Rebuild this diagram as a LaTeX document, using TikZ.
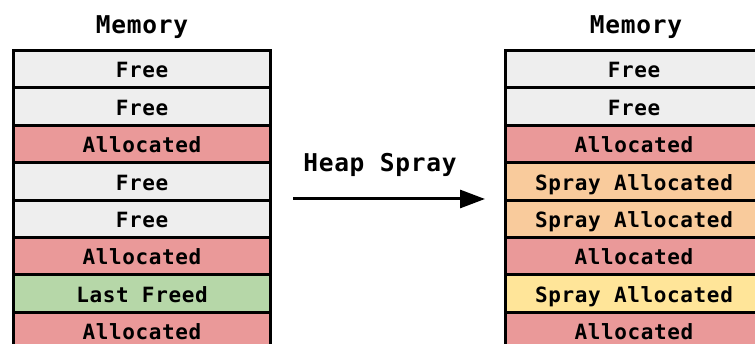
\documentclass[tikz,border=0pt]{standalone}
\usepackage{fontspec}
\usetikzlibrary{positioning,arrows.meta}

\newfontfamily\memfont[LetterSpace=3]{DejaVu Sans Mono}

% cell colours
\definecolor{freecol}{HTML}{EEEEEE}
\definecolor{alloccol}{HTML}{EA9999}
\definecolor{freedcol}{HTML}{B6D7A8}
\definecolor{spraycol}{HTML}{F9CB9C}
\definecolor{newspraycol}{HTML}{FFE599}

\tikzset{
  cell/.style={draw=black, line width=3pt, minimum width=257pt,
    minimum height=37.4pt, inner sep=0pt, outer sep=0pt,
    text height=19.8pt, text depth=2.5pt,
    font=\memfont\bfseries\fontsize{21}{21}\selectfont},
  free/.style={cell, fill=freecol},
  alloc/.style={cell, fill=alloccol},
  freed/.style={cell, fill=freedcol},
  spray/.style={cell, fill=spraycol},
  newspray/.style={cell, fill=newspraycol},
  title/.style={font=\memfont\bfseries\fontsize{24.5}{24.5}\selectfont}
}

\begin{document}
\begin{tikzpicture}[x=1pt,y=1pt]

    % Picture frame
    \clip (0,0) rectangle (755,344);
    \fill[white] (0,0) rectangle (755,344);

    % Memory before the spray
    \node[title] (mem-before) at (142,317) {Memory};
    \node[free] (b1) at (142,274.8) {Free};
    \node[free, below=0pt of b1] (b2) {Free};
    \node[alloc, below=0pt of b2] (b3) {Allocated};
    \node[free, below=0pt of b3] (b4) {Free};
    \node[free, below=0pt of b4] (b5) {Free};
    \node[alloc, below=0pt of b5] (b6) {Allocated};
    \node[freed, below=0pt of b6] (b7) {Last Freed};
    \node[alloc, below=0pt of b7] (b8) {Allocated};

    % Memory after the spray
    \node[title] (mem-after) at (636,317) {Memory};
    \node[free] (a1) at (634,274.8) {Free};
    \node[free, below=0pt of a1] (a2) {Free};
    \node[alloc, below=0pt of a2] (a3) {Allocated};
    \node[spray, below=0pt of a3] (a4) {Spray Allocated};
    \node[spray, below=0pt of a4] (a5) {Spray Allocated};
    \node[alloc, below=0pt of a5] (a6) {Allocated};
    \node[newspray, below=0pt of a6] (a7) {Spray Allocated};
    \node[alloc, below=0pt of a7] (a8) {Allocated};

    % Spray arrow
    \node[title] (spray-label) at (380,179) {Heap Spray};
    \coordinate (spray-start) at (293,145);
    \coordinate (spray-end) at (485,145);
    \draw[line width=3pt, -{Triangle[length=25pt,width=18pt]}] (spray-start) -- (spray-end);

\end{tikzpicture}
\end{document}
